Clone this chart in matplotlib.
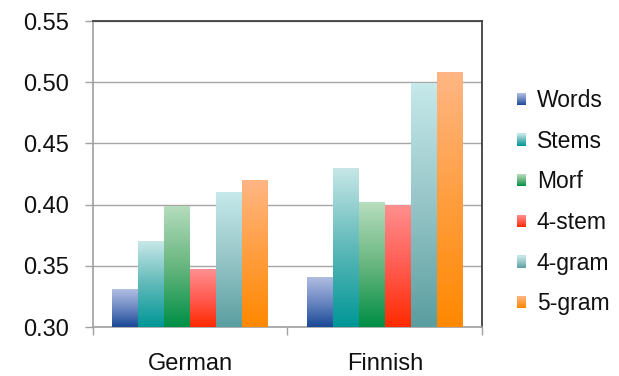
import numpy as np
import matplotlib
matplotlib.use("Agg")
import matplotlib.pyplot as plt
from matplotlib.colors import LinearSegmentedColormap
from matplotlib.legend_handler import HandlerBase
from matplotlib.patches import Rectangle

plt.rcParams['font.family'] = ['Liberation Sans', 'DejaVu Sans']

languages = ["German", "Finnish"]
series = ["Words", "Stems", "Morf", "4-stem", "4-gram", "5-gram"]
values = {
    "Words":  [0.331, 0.341],
    "Stems":  [0.370, 0.430],
    "Morf":   [0.399, 0.402],
    "4-stem": [0.347, 0.400],
    "4-gram": [0.410, 0.499],
    "5-gram": [0.420, 0.508],
}
y_ticks = [0.30, 0.35, 0.40, 0.45, 0.50, 0.55]

# top -> middle -> bottom colours for each bar gradient
gradients = {
    "Words":  ["#b2bfe2", "#6c88c2", "#1a4996"],
    "Stems":  ["#c8e7e7", "#5fb9b9", "#009696"],
    "Morf":   ["#b6ddbe", "#68b67f", "#008f45"],
    "4-stem": ["#ff9090", "#ff5c52", "#ff2a00"],
    "4-gram": ["#c6e9eb", "#96c5c7", "#5a9ea0"],
    "5-gram": ["#ffb684", "#ff9e40", "#ff8800"],
}
cmaps = {k: LinearSegmentedColormap.from_list(k, v[::-1]) for k, v in gradients.items()}
grad = np.linspace(0, 1, 256).reshape(-1, 1)

fig = plt.figure(figsize=(6.19, 3.76), dpi=100)
ax = fig.add_axes([0.1502, 0.1303, 0.6285, 0.8138])

x = np.arange(len(languages))
width = 0.8 / len(series)
base = y_ticks[0]

for i, name in enumerate(series):
    offs = x + (i - (len(series) - 1) / 2) * width
    bars = ax.bar(offs, np.array(values[name]) - base, width, bottom=base,
                  color="none", edgecolor="none", zorder=3)
    for b in bars:
        x0, y0 = b.get_x(), b.get_y()
        x1, y1 = x0 + b.get_width(), y0 + b.get_height()
        im = ax.imshow(grad, cmap=cmaps[name], origin="lower", aspect="auto",
                       extent=(x0, x1, y0, y1), zorder=3, interpolation="bilinear")
        im.set_clip_path(b)

ax.set_xlim(-0.5, 1.5)
ax.set_ylim(0.30, 0.55)
ax.set_yticks(y_ticks)
ax.set_yticklabels([f"{t:.2f}" for t in y_ticks])
ax.yaxis.grid(True, color="#a6a6a6", linewidth=1.0, zorder=0)
ax.set_axisbelow(True)

ax.set_xticks([-0.5, 0.5, 1.5])
ax.set_xticklabels([])
ax.set_xticks(x, minor=True)
ax.set_xticklabels(languages, minor=True)
ax.tick_params(axis="x", which="minor", length=0, pad=18.5, labelsize=17, labelcolor="#111111")
ax.tick_params(axis="x", which="major", length=6, width=1, color="#a0a0a0", direction="out")
ax.tick_params(axis="y", length=6, width=1, color="#a0a0a0", direction="out",
               pad=11, labelsize=17, labelcolor="#111111")

for s in ("left", "bottom"):
    ax.spines[s].set_color("#a0a0a0")
    ax.spines[s].set_linewidth(1.2)
for s in ("top", "right"):
    ax.spines[s].set_color("#404040")
    ax.spines[s].set_linewidth(1.3)


class GradientSquare(HandlerBase):
    def create_artists(self, legend, orig_handle, xdescent, ydescent,
                       width, height, fontsize, trans):
        cmap = cmaps[orig_handle.get_label()]
        n = 12
        arts = []
        for k in range(n):
            r = Rectangle((-xdescent, -ydescent + height * k / n), width, height / n + 0.3,
                          facecolor=cmap((k + 0.5) / n), edgecolor="none", transform=trans)
            arts.append(r)
        return arts


handles = [Rectangle((0, 0), 1, 1, label=name) for name in series]
leg = fig.legend(handles, series, loc="center left", bbox_to_anchor=(0.835, 0.462),
                 frameon=False, fontsize=16.5, handler_map={Rectangle: GradientSquare()},
                 handlelength=0.42, handleheight=0.42, handletextpad=0.45,
                 labelspacing=0.77, borderaxespad=0, borderpad=0)
for t in leg.get_texts():
    t.set_color("#111111")

fig.savefig("out.png", dpi=100)
